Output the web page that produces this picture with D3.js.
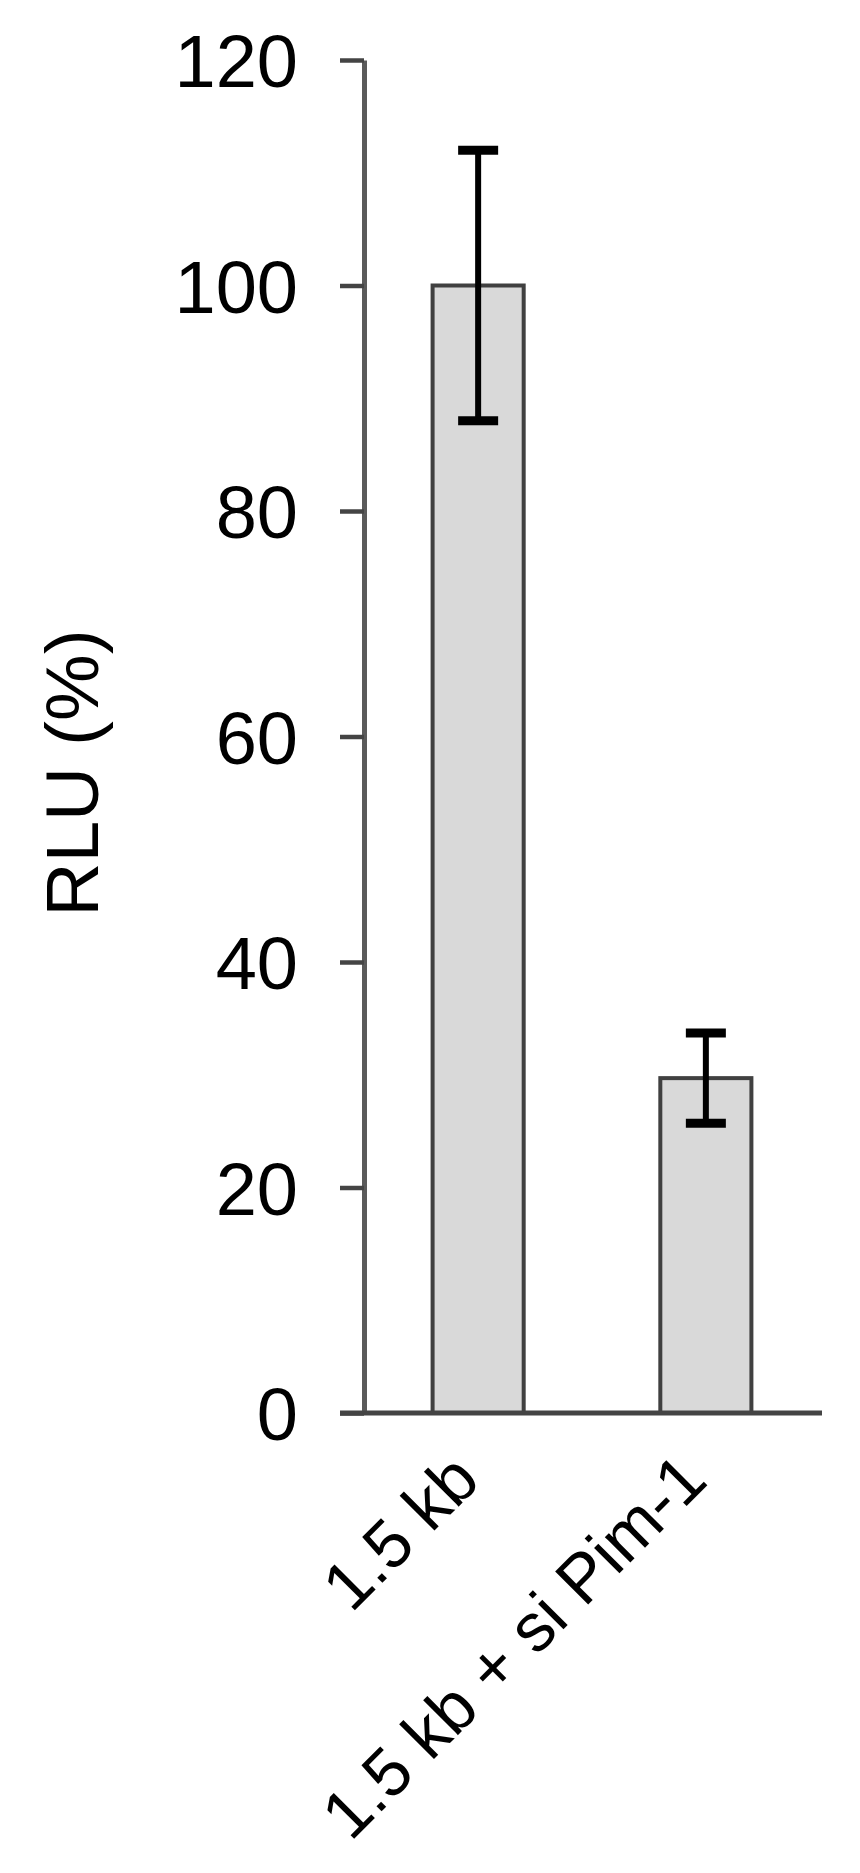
<!DOCTYPE html>
<html>
<head>
<meta charset="utf-8">
<script src="https://cdn.jsdelivr.net/npm/d3@7"></script>
<style>
  html, body { margin: 0; padding: 0; background: #fff; }
  svg { display: block; }
  text { font-family: "Liberation Sans", Arial, sans-serif; fill: #000; }
</style>
</head>
<body>
<svg id="chart" width="860" height="1873"></svg>
<script>
  // values
  const categories = ["1.5 kb", "1.5 kb + si Pim-1"];
  const means = [100, 29.7];
  const errors = [12, 4];
  const yTicks = [0, 20, 40, 60, 80, 100, 120];
  const yLabel = "RLU (%)";

  const svg = d3.select("#chart");
  const margin = { top: 60, left: 364, right: 38, bottom: 460 };
  const width = 860;
  const height = 1873;

  const x = d3.scaleBand()
    .domain(categories)
    .range([margin.left - 2, width - margin.right])
    .paddingInner(0.6)
    .paddingOuter(0.31);

  const y = d3.scaleLinear()
    .domain([0, 120])
    .range([height - margin.bottom, margin.top]);

  const rows = categories.map((c, i) => ({ name: c, value: means[i], err: errors[i] }));

  // bars
  svg.append("g")
    .selectAll("rect")
    .data(rows)
    .join("rect")
    .attr("x", (d) => x(d.name))
    .attr("y", (d) => y(d.value))
    .attr("width", x.bandwidth())
    .attr("height", (d) => y(0) - y(d.value))
    .attr("fill", "#d9d9d9")
    .attr("stroke", "#404040")
    .attr("stroke-width", 4);

  // y axis
  const tickLen = 24;
  const yAxis = svg.append("g")
    .attr("transform", `translate(${margin.left},0)`)
    .call(d3.axisLeft(y).tickValues(yTicks).tickSize(tickLen).tickSizeOuter(0).tickPadding(42));
  yAxis.select(".domain").attr("stroke", "#5a5a5a").attr("stroke-width", 5);
  yAxis.selectAll(".tick line").attr("stroke", "#444").attr("stroke-width", 4.5);
  yAxis.selectAll(".tick text")
    .attr("font-size", 74)
    .attr("dy", "0.36em")
    .style("font-family", "'Liberation Sans', Arial, sans-serif");

  // baseline
  svg.append("line")
    .attr("x1", margin.left - tickLen)
    .attr("x2", width - margin.right)
    .attr("y1", y(0))
    .attr("y2", y(0))
    .attr("stroke", "#444")
    .attr("stroke-width", 5);

  // error bars
  const eb = svg.append("g").attr("stroke", "#000").attr("fill", "none");
  const capW = 40;
  rows.forEach((d) => {
    const cx = x(d.name) + x.bandwidth() / 2;
    eb.append("line")
      .attr("x1", cx).attr("x2", cx)
      .attr("y1", y(d.value + d.err)).attr("y2", y(d.value - d.err))
      .attr("stroke-width", 6);
    [d.value + d.err, d.value - d.err].forEach((v) => {
      eb.append("line")
        .attr("x1", cx - capW / 2).attr("x2", cx + capW / 2)
        .attr("y1", y(v)).attr("y2", y(v))
        .attr("stroke-width", 9);
    });
  });

  // category labels, rotated
  svg.append("g")
    .selectAll("text")
    .data(categories)
    .join("text")
    .attr("transform", (d) => `translate(${x(d) + x.bandwidth() / 2 + 4},${y(0) + 70}) rotate(-45)`)
    .attr("text-anchor", "end")
    .attr("font-size", 68)
    .text((d) => d);

  // y title
  svg.append("text")
    .attr("transform", `translate(${98},${773}) rotate(-90)`)
    .attr("text-anchor", "middle")
    .attr("font-size", 75)
    .text(yLabel);
</script>
</body>
</html>
